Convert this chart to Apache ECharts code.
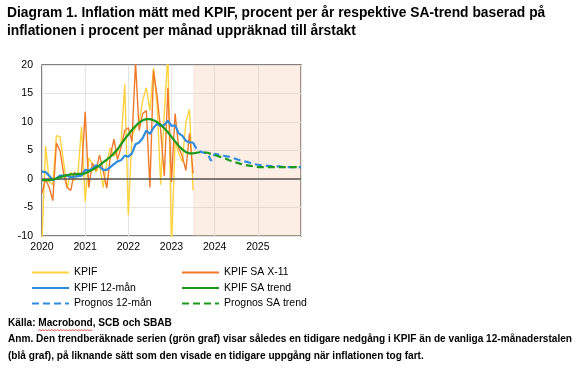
<!DOCTYPE html>
<html>
<head>
<meta charset="utf-8">
<script src="https://cdn.jsdelivr.net/npm/echarts@6/dist/echarts.min.js"></script>
<style>
html,body{margin:0;padding:0;background:#fff;}
#c{width:576px;height:371px;}
</style>
</head>
<body>
<div id="c"></div>
<script>
// Monthly data, first value = Jan 2020
const startYear = 2020;
const yearTicks = ['2020','2021','2022','2023','2024','2025'];
// KPIF, monthly change annualised (not seasonally adjusted), Jan 2020 - Jul 2023
const kpif = [-11, 5.8, -0.5, -1.0, 7.6, 7.4, 3.0, -1.6, 1.2, -0.3, 1.0, 9.2,
              -4.0, 3.7, 2.6, 1.2, 2.5, -1.5, 3.0, 5.5, 4.0, 4.8, 6.5, 16.6,
              -6.3, 7.5, 9.0, 10.0, 13.8, 16.0, 12.0, 19.5, 13.0, -1.0, 11.5, 22,
              -12, 6.5, 4.5, 3.0, 10.0, 12.2, -2.0];
// KPIF SA X-11, monthly change annualised
const kpifSA = [-2.5, 0.0, -1.5, -3.8, 6.3, 5.0, 1.0, -1.5, -2.0, 1.2, 0.5, 1.0,
                11.8, -1.5, 2.8, 1.5, 4.2, 1.5, -1.6, 4.0, 7.0, 3.4, 5.6, 8.5,
                9.0, 6.5, 20.5, 8.5, 11.5, 12.0, -1.5, 19.0, 14.5, 8.5, 0.5, 16.0,
                -0.5, 11.5, 5.5, 4.0, 1.5, 8.0, 1.0];
// KPIF 12-month change
const kpif12 = [1.3, 1.2, 0.6, -0.2, 0.1, 0.6, 0.6, 0.6, 0.3, 0.4, 0.5, 0.6,
                1.6, 1.5, 1.8, 2.4, 2.2, 1.6, 1.6, 2.1, 2.6, 3.1, 3.3, 4.1,
                3.9, 4.5, 6.1, 6.4, 7.2, 8.5, 7.9, 9.0, 9.7, 9.3, 9.5, 10.2,
                9.3, 9.4, 8.0, 7.6, 6.7, 6.4, 6.4];
// KPIF SA trend
const kpifTrend = [-0.2, -0.2, -0.2, -0.1, 0.1, 0.3, 0.5, 0.7, 0.8, 0.8, 0.9, 0.9,
                   1.0, 1.3, 1.6, 2.0, 2.4, 2.9, 3.4, 3.9, 4.5, 5.2, 6.1, 7.0,
                   7.8, 8.6, 9.3, 9.9, 10.3, 10.5, 10.5, 10.3, 10.0, 9.5, 8.9, 8.2,
                   7.4, 6.6, 5.8, 5.2, 4.7, 4.5, 4.5];
// Forecasts, first value = Jul 2023
const fcStartIndex = 42;
const prog12 = [6.4, 5.2, 4.8, 4.6, 4.5, 3.2, 4.4, 4.3, 4.2, 4.0, 3.9, 3.7,
                3.5, 3.3, 3.1, 3.0, 2.8, 2.6, 2.5, 2.4, 2.3, 2.3, 2.2, 2.2,
                2.2, 2.1, 2.1, 2.1, 2.1, 2.1, 2.1];
const progTrend = [4.5, 4.6, 4.7, 4.7, 4.6, 4.4, 4.2, 4.0, 3.8, 3.6, 3.3, 3.1,
                   2.9, 2.7, 2.5, 2.4, 2.3, 2.2, 2.1, 2.1, 2.1, 2.1, 2.1, 2.1,
                   2.1, 2.1, 2.1, 2.1, 2.1, 2.1, 2.1];
const forecastFrom = 2023.5;
const axisMin = 2020, axisMax = 2026;

function toXY(arr, offset) {
  return arr.map((v, k) => [startYear + (offset + k) / 12, v]);
}

const FONT = '"Liberation Sans", Arial, sans-serif';
const sourceText = 'Källa: Macrobond, SCB och SBAB';
const note1 = 'Anm. Den trendberäknade serien (grön graf) visar således en tidigare nedgång i KPIF än de vanliga 12-månaderstalen';
const note2 = '(blå graf), på liknande sätt som den visade en tidigare uppgång när inflationen tog fart.';
const noteFont = 'bold 11.5px "Liberation Sans", Arial, sans-serif';

// condensed look for the footnote (narrow bold face in the original)
const mctx = document.createElement('canvas').getContext('2d');
mctx.font = noteFont;
const sx = 564 / mctx.measureText(note1).width;
const sqStart = 8 + mctx.measureText('Källa: ').width * sx;
const sqEnd = sqStart + mctx.measureText('Macrobond').width * sx;
const squiggle = [];
for (let x = sqStart, k = 0; x <= sqEnd; x += 1.5, k++) squiggle.push([x, (k % 2) ? 329.5 : 331]);

const chart = echarts.init(document.getElementById('c'), null, {renderer: 'canvas'});
const option = {
  animation: false,
  backgroundColor: '#fff',
  title: {
    text: 'Diagram 1. Inflation mätt med KPIF, procent per år respektive SA-trend baserad på\ninflationen i procent per månad uppräknad till årstakt',
    left: 7, top: 4, padding: 0,
    textStyle: {fontFamily: FONT, fontSize: 13.8, fontWeight: 'bold', color: '#000', lineHeight: 18}
  },
  grid: {left: 42, right: 275, top: 65, bottom: 135, show: true, borderColor: '#5a5a5a', borderWidth: 1.5, containLabel: false},
  xAxis: {
    type: 'value', min: axisMin, max: axisMax, interval: 1,
    axisLine: {show: false}, axisTick: {show: false},
    axisLabel: {fontFamily: FONT, fontSize: 10.5, color: '#000', margin: 6,
      formatter: v => { const s = String(Math.round(v)); return (Math.abs(v - Math.round(v)) < 1e-6 && yearTicks.indexOf(s) >= 0) ? s : ''; }},
    splitLine: {show: true, lineStyle: {color: '#e4e4e4', width: 1}}
  },
  yAxis: {
    type: 'value', min: -10, max: 20, interval: 5,
    axisLine: {show: false}, axisTick: {show: false},
    axisLabel: {fontFamily: FONT, fontSize: 10.5, color: '#000', margin: 9},
    splitLine: {show: true, lineStyle: {color: '#e4e4e4', width: 1}}
  },
  legend: [
    {orient: 'vertical', left: 31, top: 267, padding: 0, itemWidth: 37, itemHeight: 11, itemGap: 4.5,
     itemStyle: {opacity: 0},
     data: ['KPIF', 'KPIF 12-mån', 'Prognos 12-mån'],
     textStyle: {fontFamily: FONT, fontSize: 10.5, color: '#000'}},
    {orient: 'vertical', left: 181, top: 267, padding: 0, itemWidth: 37, itemHeight: 11, itemGap: 4.5,
     itemStyle: {opacity: 0},
     data: ['KPIF SA X-11', 'KPIF SA trend', 'Prognos SA trend'],
     textStyle: {fontFamily: FONT, fontSize: 10.5, color: '#000'}}
  ],
  series: [
    {name: 'KPIF', type: 'line', data: toXY(kpif, 0), showSymbol: false, symbol: 'none',
     lineStyle: {color: '#ffd23f', width: 1.4}, itemStyle: {color: '#ffd23f'}, z: 2,
     markArea: {silent: true, itemStyle: {color: 'rgba(246,190,160,0.28)'},
       data: [[{xAxis: forecastFrom}, {xAxis: axisMax}]]},
     markLine: {silent: true, symbol: 'none', label: {show: false},
       lineStyle: {color: '#555', width: 1.5, type: 'solid'}, data: [{yAxis: 0}]}},
    {name: 'KPIF SA X-11', type: 'line', data: toXY(kpifSA, 0), showSymbol: false, symbol: 'none',
     lineStyle: {color: '#f07a2a', width: 1.4}, itemStyle: {color: '#f07a2a'}, z: 3},
    {name: 'KPIF 12-mån', type: 'line', data: toXY(kpif12, 0), showSymbol: false, symbol: 'none',
     lineStyle: {color: '#2f8de0', width: 2.2}, itemStyle: {color: '#2f8de0'}, z: 4},
    {name: 'KPIF SA trend', type: 'line', data: toXY(kpifTrend, 0), showSymbol: false, symbol: 'none',
     lineStyle: {color: '#1a9a1a', width: 2.2}, itemStyle: {color: '#1a9a1a'}, z: 5},
    {name: 'Prognos 12-mån', type: 'line', data: toXY(prog12, fcStartIndex), showSymbol: false, symbol: 'none',
     lineStyle: {color: '#2f8de0', width: 2.2, type: [7, 4]}, itemStyle: {color: '#2f8de0'}, z: 4},
    {name: 'Prognos SA trend', type: 'line', data: toXY(progTrend, fcStartIndex), showSymbol: false, symbol: 'none',
     lineStyle: {color: '#1a9a1a', width: 2.2, type: [7, 4]}, itemStyle: {color: '#1a9a1a'}, z: 5}
  ],
  graphic: [
    {type: 'text', x: 8, y: 317, scaleX: sx, style: {text: sourceText, font: noteFont, fill: '#000'}},
    {type: 'text', x: 8, y: 333, scaleX: sx, style: {text: note1, font: noteFont, fill: '#000'}},
    {type: 'text', x: 8, y: 350, scaleX: sx, style: {text: note2, font: noteFont, fill: '#000'}},
    {type: 'polyline', shape: {points: squiggle}, style: {stroke: '#e02020', lineWidth: 0.8, fill: null}}
  ]
};
chart.setOption(option);
</script>
</body>
</html>
